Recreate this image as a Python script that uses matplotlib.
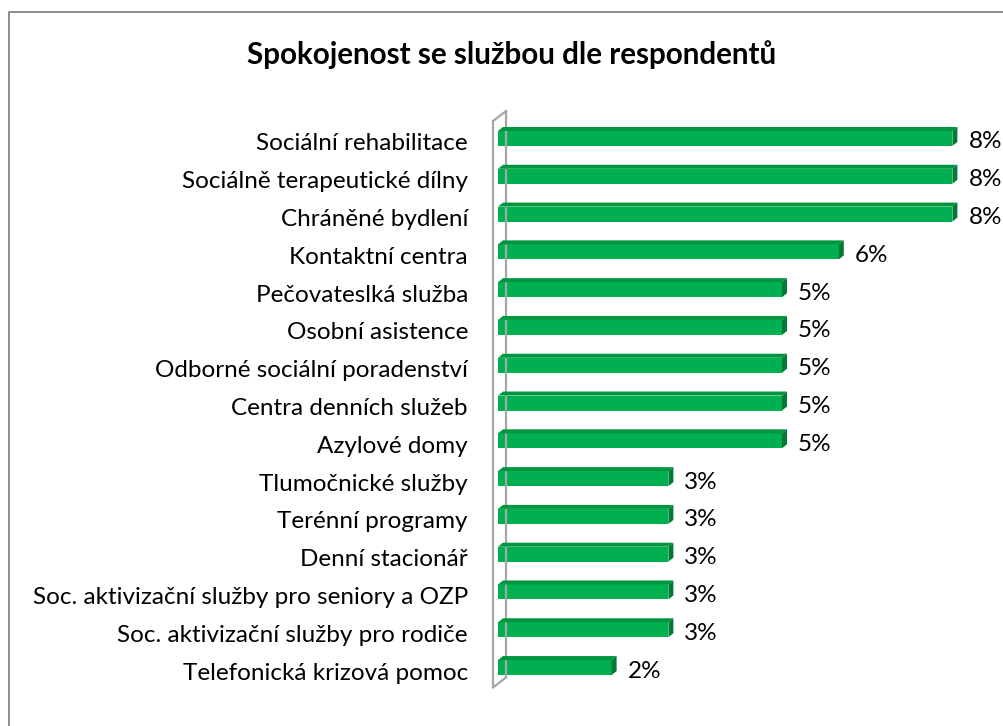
import matplotlib
matplotlib.use("Agg")
import matplotlib.pyplot as plt
from matplotlib.patches import Polygon
from matplotlib.lines import Line2D

plt.rcParams['font.family'] = ['Lato', 'DejaVu Sans']

title = "Spokojenost se službou dle respondentů"
categories = [
    "Sociální rehabilitace",
    "Sociálně terapeutické dílny",
    "Chráněné bydlení",
    "Kontaktní centra",
    "Pečovateslká služba",
    "Osobní asistence",
    "Odborné sociální poradenství",
    "Centra denních služeb",
    "Azylové domy",
    "Tlumočnické služby",
    "Terénní programy",
    "Denní stacionář",
    "Soc. aktivizační služby pro seniory a OZP",
    "Soc. aktivizační služby pro rodiče",
    "Telefonická krizová pomoc",
]
values = [8, 8, 8, 6, 5, 5, 5, 5, 5, 3, 3, 3, 3, 3, 2]
value_labels = [f"{v}%" for v in values]

W, H, DPI = 1004, 726, 100
fig = plt.figure(figsize=(W / DPI, H / DPI), dpi=DPI)
fig.patch.set_facecolor('white')

# axes placement in pixels
x0_px = 498
px_per_unit = 56.8
xmax = 8.5
pitch = 37.79
top_px = 138.5 - pitch / 2
n = len(categories)
ax_h = pitch * n
ax = fig.add_axes([x0_px / W, 1 - (top_px + ax_h) / H, xmax * px_per_unit / W, ax_h / H])
ax.set_xlim(0, xmax)
ax.set_ylim(n - 0.5, -0.5)
ax.axis('off')

front = '#00B050'
topc = '#00953F'
side = '#007A35'
bh = 15 / pitch
ypos = list(range(n))
ax.barh(ypos, values, height=bh, color=front, zorder=3)

fig.canvas.draw()
T = ax.transData
dx, dy = 5, 4  # pixel depth (display coords, y up)


def disp(x, y):
    return T.transform((x, y))

# wall
wall_col = '#A6A6A6'
(wx, wy_top) = disp(0, -0.5)
(_, wy_bot) = disp(0, n - 0.5)
fx = wx - 5
bx = wx + 8
wall_lines = [
    [(fx, wy_top - 1.5), (fx, wy_bot - 1)],
    [(fx, wy_top - 1.5), (bx, wy_top + 8.5)],
    [(bx, wy_top + 8.5), (bx, wy_bot + 9)],
    [(fx, wy_bot - 1), (bx, wy_bot + 9)],
]
for seg in wall_lines:
    xs, ys = zip(*seg)
    fig.add_artist(Line2D(xs, ys, transform=None, color=wall_col, lw=1.6, zorder=1))

fs = 17.5
pt = 72 / DPI
for y, v, lab in zip(ypos, values, value_labels):
    xl, yt = disp(0, y - bh / 2)
    xr, yb = disp(v, y + bh / 2)
    top_poly = [(xl, yt), (xr, yt), (xr + dx, yt + dy), (xl + dx, yt + dy)]
    side_poly = [(xr, yt), (xr + dx, yt + dy), (xr + dx, yb + dy), (xr, yb)]
    fig.add_artist(Polygon(top_poly, closed=True, transform=None, facecolor=topc, edgecolor='none', zorder=4))
    fig.add_artist(Polygon(side_poly, closed=True, transform=None, facecolor=side, edgecolor='none', zorder=4))
    ax.annotate(lab, (v, y), xytext=(16 * pt, -10 * pt), textcoords='offset points',
                ha='left', va='baseline', fontsize=fs, color='black')
    ax.annotate(categories[y], (0, y), xytext=(-30 * pt, -12 * pt), textcoords='offset points',
                ha='right', va='baseline', fontsize=fs, color='black')

fig.text(512 / W, 1 - 55 / H, title, ha='center', va='center', fontsize=21.3, fontweight='bold')

# chart border
fig.add_artist(Line2D([8.5, 8.5, W], [0, H - 11.5, H - 11.5], transform=None, color='#8C8C8C', lw=1.4))

fig.savefig('out.png', dpi=DPI, facecolor='white')
